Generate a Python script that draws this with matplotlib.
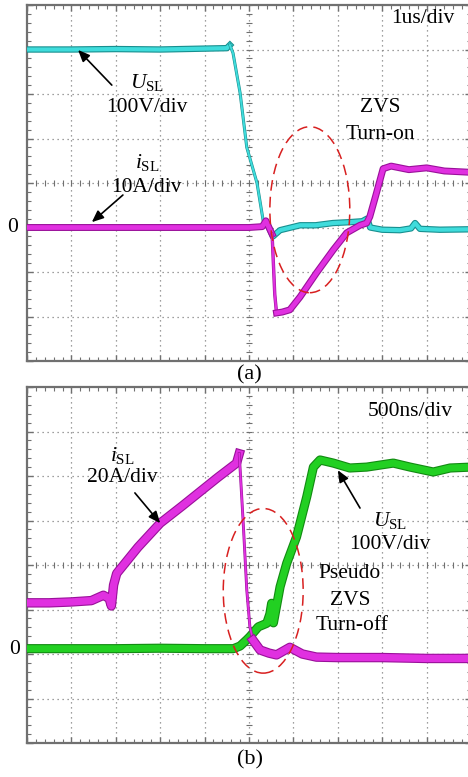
import numpy as np
import matplotlib
matplotlib.use("Agg")
import matplotlib.pyplot as plt
import matplotlib.patheffects as pe
from matplotlib.patches import Ellipse

plt.rcParams['font.family'] = ['Liberation Serif', 'DejaVu Serif']
plt.rcParams['mathtext.fontset'] = 'custom'
plt.rcParams['mathtext.rm'] = 'Liberation Serif'
plt.rcParams['mathtext.it'] = 'Liberation Serif:italic'

# ---- panel (a): ZVS turn-on, values in scope divisions ----
usl_a_x = [0.05, 1.0, 2.0, 3.0, 4.0, 4.5, 4.57, 4.64, 4.8, 4.95, 5.18, 5.32,
           5.45, 5.54, 5.7, 6.15, 6.5, 6.89, 7.27, 7.55, 7.66, 7.73, 8.0,
           8.4, 8.65, 8.74, 8.85, 9.3, 10.0]
usl_a_y = [3.0, 3.0, 3.01, 3.0, 3.02, 3.03, 3.1, 2.92, 2.02, 0.8, 0.0, -0.85,
           -1.0, -1.2, -1.06, -0.95, -0.95, -0.9, -0.88, -0.86, -0.8, -1.0,
           -1.05, -1.06, -1.02, -0.9, -1.03, -1.05, -1.04]

isl_a_x = [0.05, 1.0, 2.0, 3.0, 4.0, 5.0, 5.3, 5.38, 5.45, 5.52, 5.58, 5.62,
           5.75, 5.92, 6.15, 6.52, 6.9, 7.2, 7.5, 7.65, 7.72, 7.85, 8.02,
           8.2, 8.6, 9.0, 9.4, 10.0]
isl_a_y = [-1.0, -1.0, -1.0, -1.0, -1.0, -1.0, -0.98, -0.85, -1.0, -1.15,
           -2.5, -2.92, -2.9, -2.85, -2.56, -2.02, -1.5, -1.12, -0.95, -0.9,
           -0.76, -0.3, 0.32, 0.38, 0.3, 0.34, 0.27, 0.24]

# ---- panel (b): pseudo ZVS turn-off ----
isl_b_x = [0.05, 0.5, 1.0, 1.45, 1.72, 1.85, 1.9, 1.95, 2.02, 2.5, 3.0, 3.5,
           3.9, 4.3, 4.72, 4.78, 4.87, 4.95, 5.02, 5.09, 5.25, 5.45, 5.62,
           5.92, 6.2, 6.52, 7.0, 8.0, 9.0, 10.0]
isl_b_y = [-0.85, -0.85, -0.83, -0.8, -0.68, -0.75, -0.92, -0.45, -0.19, 0.4,
           0.94, 1.33, 1.65, 1.97, 2.29, 2.5, 0.94, -0.56, -1.39, -1.69, -1.91,
           -1.98, -2.02, -1.85, -2.0, -2.07, -2.08, -2.08, -2.1, -2.1]

usl_b_x = [0.05, 1.0, 2.0, 3.0, 4.0, 4.65, 4.8, 4.95, 5.02, 5.21, 5.40, 5.47,
           5.51, 5.55, 5.70, 5.85, 6.07, 6.30, 6.45, 6.6, 6.9, 7.27, 7.65,
           8.25, 8.63, 9.15, 9.53, 10.0]
usl_b_y = [-1.88, -1.88, -1.88, -1.87, -1.88, -1.88, -1.82, -1.68, -1.61,
           -1.39, -1.31, -1.1, -0.86, -1.3, -0.49, 0.04, 0.63, 1.53, 2.2,
           2.36, 2.29, 2.18, 2.2, 2.29, 2.2, 2.09, 2.18, 2.2]

W, H = 468, 777
fig = plt.figure(figsize=(W / 100, H / 100), dpi=100)


def px_box(left, top, width, height):
    return [left / W, 1 - (top + height) / H, width / W, height / H]


def scope_axes(rect):
    ax = fig.add_axes(rect)
    ax.set_xlim(0, 10)
    ax.set_ylim(-4, 4)
    for s in ax.spines.values():
        s.set_color('#707070')
        s.set_linewidth(1.6)
    ax.set_xticks(np.arange(0, 11, 1))
    ax.set_yticks(np.arange(-4, 5, 1))
    ax.set_xticks(np.arange(0, 10.01, 0.2), minor=True)
    ax.set_yticks(np.arange(-4, 4.01, 0.2), minor=True)
    ax.tick_params(which='both', direction='in', top=True, right=True,
                   labelbottom=False, labelleft=False, color='#707070')
    ax.tick_params(which='major', length=4, width=1)
    ax.tick_params(which='minor', length=3, width=0.8)
    for v in range(1, 10):
        ax.axvline(v, color='#808080', lw=0.9, ls=(0, (1, 3)), zorder=0)
    for h in range(-3, 4):
        ax.axhline(h, color='#808080', lw=0.9, ls=(0, (1, 3)), zorder=0)
    mx = np.arange(0, 10.01, 0.2)
    my = np.arange(-4, 4.01, 0.2)
    ax.plot(mx, np.zeros_like(mx), ls='', marker='|', ms=4, mew=0.8,
            color='#707070', zorder=0)
    ax.plot(np.full_like(my, 5.0), my, ls='', marker='_', ms=4, mew=0.8,
            color='#707070', zorder=0)
    return ax


def trace(ax, x, y, color, edge, lw, thin=None, thin_lw=1.5):
    x = np.asarray(x)
    y = np.asarray(y)
    eff = [pe.Stroke(linewidth=lw + 1.6, foreground=edge), pe.Normal()]
    if thin is None:
        ax.plot(x, y, color=color, lw=lw, solid_joinstyle='round',
                path_effects=eff, zorder=3)
        return
    a, b = thin
    ax.plot(x[:a + 1], y[:a + 1], color=color, lw=lw, path_effects=eff,
            solid_joinstyle='round', zorder=3)
    ax.plot(x[a:b + 1], y[a:b + 1], color=color, lw=thin_lw,
            path_effects=[pe.Stroke(linewidth=thin_lw + 0.8, foreground=edge),
                          pe.Normal()], zorder=3)
    ax.plot(x[b:], y[b:], color=color, lw=lw, path_effects=eff,
            solid_joinstyle='round', zorder=3)


txt = dict(fontsize=15.5, ha='center', va='center', color='black')
arrow = dict(arrowstyle='-|>,head_length=0.7,head_width=0.3', color='black',
             lw=1.2, shrinkA=0, shrinkB=0)

# panel (a)
ax1 = scope_axes(px_box(27, 5, 444, 356))
trace(ax1, usl_a_x, usl_a_y, '#3fdcdc', '#178f8f', 3.0, thin=(6, 12), thin_lw=1.4)
trace(ax1, isl_a_x, isl_a_y, '#e030e0', '#9a109a', 3.4, thin=(9, 11), thin_lw=1.6)
ax1.add_patch(Ellipse((6.37, -0.6), 1.8, 3.73, fill=False, ec='#d82020',
                      lw=1.1, ls=(0, (7, 4)), zorder=4))
ax1.text(8.92, 3.70, '1us/div', **txt)
ax1.text(2.70, 2.25, r'$U_{\mathrm{SL}}$', **txt)
ax1.text(2.70, 1.69, '100V/div', **txt)
ax1.text(7.95, 1.69, 'ZVS', **txt)
ax1.text(7.95, 1.08, 'Turn-on', **txt)
ax1.text(2.70, 0.45, r'$i_{\mathrm{SL}}$', **txt)
ax1.text(2.70, -0.11, '10A/div', **txt)
ax1.annotate('', xy=(1.15, 2.99), xytext=(1.91, 2.20), arrowprops=arrow)
ax1.annotate('', xy=(1.46, -0.88), xytext=(2.16, -0.27), arrowprops=arrow)

# panel (b)
ax2 = scope_axes(px_box(27, 387, 444, 356))
trace(ax2, usl_b_x, usl_b_y, '#22d022', '#128a12', 5.0)
trace(ax2, isl_b_x, isl_b_y, '#e030e0', '#9a109a', 5.2, thin=(15, 19), thin_lw=1.3)
ax2.add_patch(Ellipse((5.32, -0.58), 1.8, 3.7, fill=False, ec='#d82020',
                      lw=1.1, ls=(0, (7, 4)), zorder=4))
ax2.text(8.63, 3.46, '500ns/div', **txt)
ax2.text(2.14, 2.47, r'$i_{\mathrm{SL}}$', **txt)
ax2.text(2.14, 1.96, '20A/div', **txt)
ax2.text(8.18, 1.01, r'$U_{\mathrm{SL}}$', **txt)
ax2.text(8.18, 0.45, '100V/div', **txt)
ax2.text(7.27, -0.18, 'Pseudo', **txt)
ax2.text(7.27, -0.79, 'ZVS', **txt)
ax2.text(7.32, -1.35, 'Turn-off', **txt)
ax2.annotate('', xy=(3.0, 0.94), xytext=(2.43, 1.62), arrowprops=arrow)
ax2.annotate('', xy=(7.0, 2.13), xytext=(7.5, 1.28), arrowprops=arrow)

fig.text(13 / W, 1 - 227 / H, '0', **txt)
fig.text(15 / W, 1 - 650 / H, '0', **txt)
fig.text(249 / W, 1 - 375 / H, '(a)', fontsize=16, ha='center', va='center')
fig.text(250 / W, 1 - 760 / H, '(b)', fontsize=16, ha='center', va='center')

fig.savefig('out.png', dpi=100)
